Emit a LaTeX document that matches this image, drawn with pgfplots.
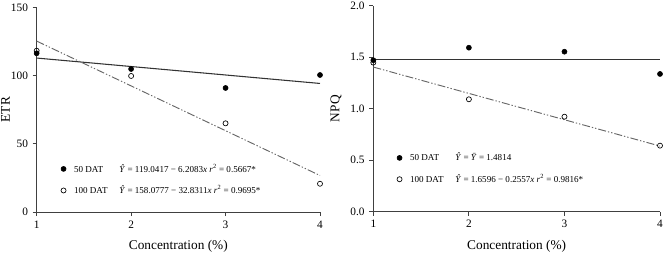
\documentclass[border=0pt]{standalone}
\usepackage{fontspec}
\setmainfont{Liberation Serif}
\usepackage{pgfplots}
\pgfplotsset{compat=1.18}
\begin{document}
\begin{tikzpicture}
\pgfplotsset{
 myax/.style={
  scale only axis, axis lines=left, axis line style={-, draw=black!75, line width=0.6pt},
  xmin=1,xmax=4, xtick={1,2,3,4},
  tick align=outside, major tick length=3pt, tick style={black!75, line width=0.6pt},
  /pgf/number format/assume math mode=true,
  tick label style={font=\fontsize{8.5}{10}\selectfont},
  label style={font=\fontsize{8.2}{10}\selectfont},
  xlabel={Concentration (\%)},
  every axis x label/.style={at={(axis description cs:0.5,0)}, anchor=center, yshift=-26pt},
  legend cell align=left,
  legend style={draw=none, fill=none, font=\fontsize{6.8}{8}\selectfont, row sep=6.5pt, inner sep=0pt, nodes={inner sep=1pt}},
  clip=false,
 },
 fill50/.style={only marks, mark=*, mark size=1.9pt, black, mark options={fill=black}},
 open100/.style={only marks, mark=o, mark size=1.9pt, black, mark options={fill=white, line width=0.5pt}},
 fitsolid/.style={no marks, draw=black!80, line width=0.8pt, forget plot},
 fitdash/.style={no marks, draw=black!60, line width=0.7pt, dash pattern=on 6pt off 1.5pt on 1pt off 1.5pt on 1pt off 1.5pt, forget plot},
}
\begin{axis}[myax, at={(27.5pt,30.75pt)}, anchor=south west, width=212.5pt, height=153.5pt,
  ymin=0, ymax=150, ytick={0,50,100,150}, ylabel={ETR},
  every axis y label/.style={at={(axis description cs:-0.11,0.5)}, anchor=center, rotate=90, inner sep=0pt},
  legend style={at={(axis cs:1.255,36.5)}, anchor=north west}]
\addplot[fitsolid] coordinates {(1,112.83) (4,94.21)};
\addplot[fitdash] coordinates {(1,125.25) (4,26.75)};
\addplot[fill50] coordinates {(1,116.3) (2,104.8) (3,90.9) (4,100.4)};
\addplot[open100] coordinates {(1,118.2) (2,99.7) (3,65.0) (4,20.7)};
\legend{\hspace{5pt}\makebox[34pt][l]{50 DAT}\textit{\^Y} = 119.0417 − 6.2083\textit{x} \textit{r}\textsuperscript{2} = 0.5667*,
        \hspace{5pt}\makebox[34pt][l]{100 DAT}\textit{\^Y} = 158.0777 − 32.8311\textit{x} \textit{r}\textsuperscript{2} = 0.9695*}
\end{axis}
\begin{axis}[myax, at={(280pt,31pt)}, anchor=south west, width=215pt, height=154.5pt,
  ymin=0, ymax=2, ytick={0,0.5,1,1.5,2}, ylabel={NPQ},
  every axis y label/.style={at={(axis description cs:-0.13,0.5)}, anchor=center, rotate=90, inner sep=0pt},
  yticklabel style={/pgf/number format/.cd, fixed, fixed zerofill, precision=1},
  legend style={at={(axis cs:1.245,0.585)}, anchor=north west}]
\addplot[fitsolid] coordinates {(1,1.4814) (4,1.4814)};
\addplot[fitdash] coordinates {(1,1.4039) (4,0.6368)};
\addplot[fill50] coordinates {(1,1.47) (2,1.592) (3,1.553) (4,1.337)};
\addplot[open100] coordinates {(1,1.447) (2,1.091) (3,0.922) (4,0.641)};
\legend{\hspace{5pt}\makebox[34pt][l]{50 DAT}\textit{\^Y} = \textit{\=Y} = 1.4814,
        \hspace{5pt}\makebox[34pt][l]{100 DAT}\textit{\^Y} = 1.6596 − 0.2557\textit{x} \textit{r}\textsuperscript{2} = 0.9816*}
\end{axis}
\pgfresetboundingbox
\path[use as bounding box] (0,0) rectangle (499.5pt,189.75pt);
\end{tikzpicture}
\end{document}
